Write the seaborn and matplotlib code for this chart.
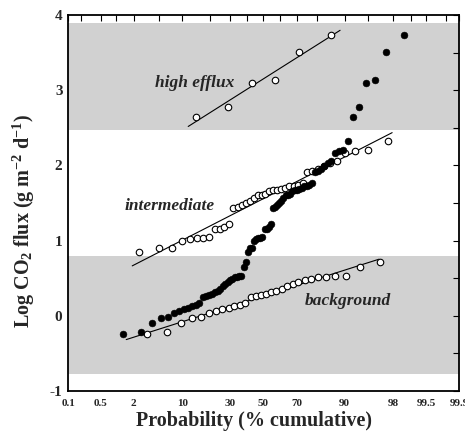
import numpy as np
import pandas as pd
import matplotlib
matplotlib.use("Agg")
import matplotlib.pyplot as plt
import seaborn as sns
from statistics import NormalDist

# ---------------- data (log CO2 flux values of each population, sorted) ----------------
background = [-0.24, -0.21, -0.095, -0.03, -0.02, 0.04, 0.07, 0.085, 0.11, 0.13,
              0.148, 0.165, 0.245, 0.268, 0.277, 0.29, 0.317, 0.335, 0.36, 0.39,
              0.425, 0.447, 0.47, 0.49, 0.51, 0.51, 0.535, 0.535, 0.65, 0.72]
intermediate = [0.85, 0.895, 0.90, 1.0, 1.015, 1.03, 1.04, 1.05, 1.15, 1.16,
                1.18, 1.22, 1.43, 1.45, 1.47, 1.50, 1.52, 1.56, 1.60, 1.61,
                1.625, 1.655, 1.67, 1.67, 1.68, 1.70, 1.72, 1.73, 1.745, 1.76,
                1.915, 1.93, 1.95, 1.99, 2.03, 2.06, 2.16, 2.19, 2.205, 2.33]
high_efflux = [2.65, 2.77, 3.10, 3.14, 3.51, 3.74]

# extent (cumulative %) of the fitted lines
line_range_background = [1.5, 96.6]
line_range_intermediate = [1.9, 97.9]
line_range_high = [11.7, 88.7]

# shaded population bands (log flux)
band_background = [-0.78, 0.80]
band_high = [2.47, 3.90]

xtick_major = [0.1, 0.5, 2, 10, 30, 50, 70, 90, 98, 99.5, 99.9]
xtick_labels = ["0.1", "0.5", "2", "10", "30", "50", "70", "90", "98", "99.5", "99.9"]
xtick_minor = [0.2, 1, 5, 20, 40, 60, 80, 95, 99, 99.8]
ytick_major = [-1, 0, 1, 2, 3, 4]
ytick_minor = [-0.5, 0.5, 1.5, 2.5, 3.5]

# ---------------- style ----------------
sns.set_theme(style="white")
plt.rcParams['font.family'] = ['Liberation Serif', 'DejaVu Serif']
plt.rcParams['font.weight'] = 'bold'
plt.rcParams['mathtext.fontset'] = 'custom'
plt.rcParams['mathtext.rm'] = 'Liberation Serif:bold'
plt.rcParams['mathtext.it'] = 'Liberation Serif:bold:italic'
plt.rcParams['mathtext.bf'] = 'Liberation Serif:bold'
plt.rcParams['mathtext.default'] = 'rm'

nd = NormalDist()


def prob_plot_positions(values):
    v = np.sort(np.asarray(values, dtype=float))
    n = len(v)
    return pd.DataFrame({"p": 100.0 * np.arange(1, n + 1) / (n + 1), "v": v})


def fwd(p):
    p = np.asarray(p, dtype=float)
    q = np.clip(p / 100.0, 1e-7, 1 - 1e-7)
    if q.size == 0:
        return q
    return np.vectorize(nd.inv_cdf, otypes=[float])(q)


def inv(z):
    z = np.asarray(z, dtype=float)
    if z.size == 0:
        return z
    return np.vectorize(nd.cdf, otypes=[float])(z) * 100.0


fig = plt.figure(figsize=(4.65, 4.32), dpi=100)
ax = fig.add_axes([68 / 465, 1 - 391 / 432, (459 - 68) / 465, (391 - 15) / 432])
ax.set_xscale('function', functions=(fwd, inv))

band_color = '#d1d1d1'
ax.axhspan(band_background[0], band_background[1], color=band_color, lw=0, zorder=0)
ax.axhspan(band_high[0], band_high[1], color=band_color, lw=0, zorder=0)

pops = [(background, line_range_background),
        (intermediate, line_range_intermediate),
        (high_efflux, line_range_high)]

for vals, rng in pops:
    df = prob_plot_positions(vals)
    z = fwd(df["p"].values)
    slope, icpt = np.polyfit(z, df["v"].values, 1)
    zl = fwd(np.array(rng))
    line_df = pd.DataFrame({"p": rng, "v": icpt + slope * zl})
    sns.lineplot(data=line_df, x="p", y="v", color="black", lw=0.8, ax=ax, zorder=2,
                 sort=False, estimator=None)
    sns.scatterplot(data=df, x="p", y="v", marker="o", facecolor="white",
                    edgecolor="black", s=22, linewidth=0.8, ax=ax, zorder=3)

all_df = prob_plot_positions(background + intermediate + high_efflux)
sns.scatterplot(data=all_df, x="p", y="v", color="black", edgecolor="black",
                s=24, linewidth=0.4, ax=ax, zorder=4)

ax.set_xlim(0.1, 99.9)
ax.set_ylim(-1, 4)
ax.set_xticks(xtick_major)
ax.set_xticklabels(xtick_labels)
ax.set_xticks(xtick_minor, minor=True)
ax.set_xticklabels([], minor=True)
ax.set_yticks(ytick_major)
ax.set_yticklabels([str(t) for t in ytick_major])
ax.set_yticks(ytick_minor, minor=True)

ax.tick_params(axis='both', which='both', direction='in', top=True, right=True,
               color='black', width=0.8)
ax.tick_params(axis='both', which='major', length=4)
ax.tick_params(axis='both', which='minor', length=4)
ax.tick_params(axis='x', which='major', labelsize=8, pad=6)
ax.tick_params(axis='y', which='major', labelsize=11, pad=4)
for lab in ax.get_xticklabels() + ax.get_yticklabels():
    lab.set_fontweight('bold')

for s in ax.spines.values():
    s.set_color('black')
    s.set_linewidth(1.3)

ax.set_xlabel("Probability (% cumulative)", fontsize=14.5, fontweight='bold')
ax.set_ylabel(r"Log CO$_2$ flux (g m$^{-2}$ d$^{-1}$)", fontsize=14.5, fontweight='bold')
ax.xaxis.set_label_coords(0.476, -0.053)
ax.yaxis.set_label_coords(-0.08, 0.452)

ax.text(14.0, 3.10, "high efflux", style='italic', fontweight='bold', fontsize=12.5,
        ha='center', va='center', zorder=5)
ax.text(6.96, 1.46, "intermediate", style='italic', fontweight='bold', fontsize=12.5,
        ha='center', va='center', zorder=5)
ax.text(90.8, 0.20, "background", style='italic', fontweight='bold', fontsize=12.5,
        ha='center', va='center', zorder=5)

ax.grid(False)
ax.set_facecolor('white')
fig.savefig("out.png", dpi=100)
